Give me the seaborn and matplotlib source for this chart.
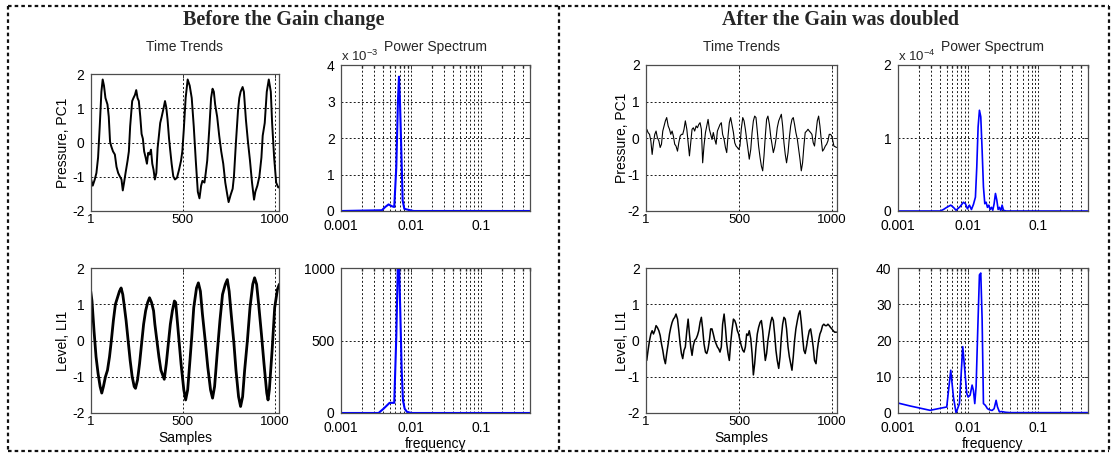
import matplotlib
matplotlib.use("Agg")
import matplotlib.pyplot as plt
import seaborn as sns
from matplotlib.lines import Line2D
from matplotlib.ticker import LogLocator, NullFormatter

# ---------------- data ----------------
time_xticks = [1, 500, 1000]
time_xticklabels = ["1", "500", "1000"]
time_yticks = [-2, -1, 0, 1, 2]
time_yticklabels = ["-2", "-1", "0", "1", "2"]
freq_ticks = [0.001, 0.01, 0.1]
freq_ticklabels = ["0.001", "0.01", "0.1"]

# Before the gain change: Pressure PC1 (sample, value)
pc1_before = [
    (1, -1.03), (12, -1.26), (23, -1.08), (32, -0.89), (41, -0.44), (50, 0.47), (59, 1.48), (66, 1.84),
    (73, 1.66), (81, 1.30), (92, 1.11), (99, 0.75), (106, 0.02), (113, -0.12), (122, -0.26), (132, -0.35),
    (141, -0.71), (150, -0.89), (159, -0.99), (168, -1.08), (175, -1.40), (182, -1.17), (190, -0.89),
    (201, -0.53), (208, -0.26), (215, 0.47), (226, 1.21), (233, 1.30), (241, 1.39), (248, 1.53), (255, 1.30),
    (262, 1.21), (270, 0.75), (277, 0.25), (284, 0.11), (291, -0.26), (299, -0.44), (306, -0.62),
    (313, -0.30), (320, -0.35), (328, -0.21), (335, -0.62), (342, -0.80), (349, -1.08), (357, -0.89),
    (364, -0.16), (371, 0.20), (378, 0.57), (386, 0.75), (397, 1.02), (404, 1.21), (411, 1.02), (418, 0.66),
    (426, 0.11), (433, -0.26), (440, -0.62), (449, -0.99), (458, -1.08), (469, -1.03), (480, -0.80),
    (491, -0.53), (498, -0.26), (506, 0.38), (516, 1.30), (527, 1.84), (538, 1.66), (549, 1.30), (560, 0.47),
    (571, -0.53), (582, -1.44), (591, -1.63), (600, -1.26), (607, -1.12), (618, -1.17), (625, -0.89),
    (633, -0.53), (644, 0.38), (654, 1.30), (662, 1.57), (669, 1.48), (676, 1.11), (687, 0.75), (698, 0.20),
    (709, -0.26), (720, -0.62), (731, -1.17), (742, -1.53), (749, -1.74), (760, -1.53), (771, -1.35),
    (778, -0.99), (789, 0.02), (800, 0.93), (807, 1.30), (814, 1.48), (825, 1.62), (832, 1.48), (843, 0.66),
    (854, 0.02), (865, -0.53), (876, -1.17), (887, -1.67), (894, -1.44), (905, -1.26), (916, -0.99),
    (927, -0.44), (934, 0.20), (945, 0.57), (956, 1.48), (967, 1.84), (978, 1.48), (985, 0.57), (996, -0.44),
    (1007, -1.17), (1018, -1.31), (1024, -1.31),
]

# Before the gain change: Level LI1
li1_before = [
    (1, 1.36), (8, 1.09), (19, 0.27), (30, -0.45), (41, -0.91), (52, -1.27), (61, -1.45), (70, -1.27),
    (81, -1.00), (92, -0.82), (103, -0.45), (113, 0.00), (124, 0.55), (135, 1.00), (146, 1.18), (157, 1.36),
    (166, 1.45), (175, 1.27), (182, 1.00), (193, 0.55), (204, 0.00), (215, -0.55), (226, -1.00),
    (237, -1.27), (244, -1.32), (255, -1.09), (266, -0.64), (277, -0.09), (288, 0.45), (299, 0.82),
    (310, 1.05), (320, 1.18), (331, 1.05), (342, 0.82), (349, 0.45), (360, 0.00), (371, -0.45), (382, -0.82),
    (400, -1.07), (411, -0.64), (422, -0.09), (433, 0.45), (444, 0.82), (455, 1.09), (462, 1.05), (469, 0.64),
    (480, 0.00), (491, -0.64), (506, -1.36), (516, -1.64), (527, -1.36), (538, -0.64), (549, 0.09),
    (560, 0.91), (575, 1.45), (585, 1.59), (596, 1.36), (607, 0.73), (622, 0.00), (636, -0.73), (651, -1.36),
    (662, -1.59), (673, -1.27), (687, -0.36), (702, 0.55), (716, 1.27), (731, 1.55), (742, 1.68), (752, 1.36),
    (763, 0.73), (778, -0.09), (789, -0.82), (803, -1.55), (814, -1.82), (825, -1.55), (836, -0.82),
    (851, 0.00), (865, 0.91), (880, 1.55), (890, 1.73), (901, 1.55), (912, 1.00), (927, 0.18), (941, -0.64),
    (956, -1.45), (963, -1.64), (970, -1.36), (985, -0.27), (999, 0.91), (1014, 1.41), (1024, 1.55),
]

# After the gain was doubled: Pressure PC1
pc1_after = [
    (5, 0.24), (12, 0.15), (20, 0.10), (27, -0.08), (34, -0.45), (41, -0.13), (48, 0.10), (55, 0.19),
    (62, 0.01), (70, -0.08), (77, -0.26), (84, -0.17), (91, 0.19), (98, 0.33), (105, 0.47), (112, 0.56),
    (120, 0.33), (127, 0.24), (134, 0.10), (141, 0.19), (148, 0.05), (155, -0.17), (162, -0.22),
    (170, -0.36), (177, -0.13), (184, 0.05), (191, 0.10), (198, 0.10), (205, 0.24), (212, 0.47), (220, 0.24),
    (227, -0.13), (234, -0.49), (241, -0.13), (248, 0.24), (255, 0.28), (262, 0.19), (270, 0.33),
    (277, 0.28), (284, 0.37), (291, 0.42), (298, 0.24), (305, -0.68), (312, -0.22), (320, 0.15), (327, 0.33),
    (334, 0.51), (341, 0.24), (348, 0.10), (355, -0.04), (362, 0.15), (370, -0.04), (377, -0.17),
    (384, 0.19), (391, 0.28), (398, 0.37), (405, 0.42), (412, 0.10), (420, -0.04), (427, -0.26),
    (434, -0.40), (441, 0.05), (448, 0.42), (455, 0.56), (462, 0.37), (470, 0.15), (477, -0.13),
    (484, -0.22), (491, -0.26), (498, -0.31), (505, -0.22), (512, 0.24), (520, 0.56), (527, 0.47),
    (534, 0.24), (541, -0.04), (548, -0.31), (555, -0.58), (563, -0.31), (570, 0.15), (577, 0.47),
    (584, 0.60), (591, 0.56), (598, 0.19), (605, -0.22), (613, -0.54), (620, -0.77), (627, -0.90),
    (634, -0.49), (641, 0.05), (648, 0.51), (655, 0.60), (663, 0.37), (670, 0.05), (677, -0.17),
    (684, -0.40), (691, -0.26), (698, -0.04), (705, 0.28), (713, 0.47), (720, 0.56), (727, 0.65),
    (734, 0.33), (741, -0.13), (748, -0.45), (755, -0.68), (763, -0.40), (770, 0.01), (777, 0.33),
    (784, 0.51), (791, 0.56), (798, 0.37), (805, 0.15), (813, -0.04), (820, -0.31), (827, -0.58),
    (834, -0.90), (841, -0.68), (848, -0.22), (855, 0.15), (863, 0.19), (870, 0.24), (877, 0.19),
    (884, 0.15), (891, 0.10), (898, -0.13), (905, -0.22), (913, 0.15), (920, 0.47), (927, 0.60),
    (934, 0.33), (941, -0.04), (948, -0.36), (955, -0.31), (963, -0.22), (970, -0.17), (977, -0.08),
    (984, 0.10), (991, 0.10), (998, 0.05), (1005, -0.13), (1009, -0.22), (1023, -0.26),
]

# After the gain was doubled: Level LI1
li1_after = [
    (5, -0.55), (12, -0.27), (20, 0.00), (27, 0.18), (34, 0.27), (41, 0.18), (48, 0.27), (55, 0.41),
    (62, 0.36), (70, 0.27), (77, 0.14), (84, -0.09), (91, -0.27), (98, -0.50), (105, -0.64), (112, -0.36),
    (120, -0.09), (127, 0.18), (134, 0.36), (141, 0.50), (148, 0.59), (155, 0.64), (162, 0.73), (170, 0.59),
    (177, 0.27), (184, -0.09), (191, -0.36), (198, -0.50), (205, -0.27), (212, -0.18), (220, 0.27),
    (227, 0.59), (234, 0.18), (241, -0.18), (248, -0.41), (255, -0.14), (262, 0.00), (270, 0.05),
    (277, 0.14), (284, 0.27), (291, 0.50), (298, 0.64), (305, 0.32), (312, -0.09), (320, -0.32),
    (327, -0.36), (334, -0.23), (341, 0.00), (348, 0.32), (355, 0.32), (362, 0.18), (370, 0.00),
    (377, -0.09), (384, -0.18), (391, -0.23), (398, -0.32), (405, -0.18), (412, 0.45), (420, 0.73),
    (427, 0.36), (434, -0.09), (441, -0.36), (448, -0.55), (455, -0.09), (462, 0.27), (470, 0.59),
    (477, 0.55), (484, 0.45), (491, 0.27), (498, 0.18), (505, 0.00), (512, -0.14), (520, -0.27),
    (527, -0.32), (534, -0.18), (541, 0.18), (548, 0.14), (555, 0.27), (563, 0.05), (570, -0.36),
    (577, -0.95), (584, -0.64), (591, -0.18), (598, 0.18), (605, 0.36), (613, 0.50), (620, 0.55),
    (627, 0.27), (634, -0.18), (641, -0.55), (648, -0.36), (655, 0.00), (663, 0.27), (670, 0.50),
    (677, 0.64), (684, 0.55), (691, 0.18), (698, -0.27), (705, -0.55), (713, -0.77), (720, -0.45),
    (727, 0.09), (734, 0.45), (741, 0.64), (748, 0.59), (755, 0.32), (763, -0.18), (770, -0.45),
    (777, -0.64), (784, -0.82), (791, -0.45), (798, 0.00), (805, 0.32), (813, 0.55), (820, 0.73),
    (827, 0.82), (834, 0.50), (841, 0.09), (848, -0.27), (855, -0.36), (863, -0.14), (870, 0.09),
    (877, 0.27), (884, 0.32), (891, 0.09), (898, -0.18), (905, -0.55), (913, -0.64), (920, -0.27),
    (927, 0.00), (934, 0.18), (941, 0.27), (948, 0.41), (955, 0.45), (963, 0.41), (970, 0.41),
    (977, 0.45), (984, 0.41), (991, 0.36), (998, 0.32), (1005, 0.27), (1013, 0.23), (1023, 0.23),
]

# Power spectra (frequency, power)
spec_pc1_before = [
    (0.001, 0.0), (0.00384, 0.00002), (0.00428, 0.00011), (0.00478, 0.00018), (0.00533, 0.00013),
    (0.00576, 0.00011), (0.00616, 0.0012), (0.00650, 0.0030), (0.00673, 0.00368), (0.00695, 0.0030),
    (0.00727, 0.00165), (0.00759, 0.00029), (0.00802, 0.00006), (0.00877, 0.00004), (0.00978, 0.00002),
    (0.0109, 0.0), (0.5, 0.0),
]
spec_li1_before = [
    (0.001, 0.0), (0.00344, 0.0), (0.00406, 30), (0.00494, 70), (0.00576, 70), (0.00616, 527),
    (0.00650, 1050), (0.00673, 1050), (0.00703, 690), (0.00735, 300), (0.00767, 87), (0.00811, 30),
    (0.00877, 7), (0.0103, 0.0), (0.5, 0.0),
]
spec_pc1_after = [
    (0.001, 0.0), (0.00400, 0.0), (0.00446, 0.02e-4), (0.00497, 0.05e-4), (0.00567, 0.08e-4),
    (0.00619, 0.05e-4), (0.00675, 0.01e-4), (0.00769, 0.06e-4), (0.00858, 0.12e-4), (0.00916, 0.10e-4),
    (0.00979, 0.03e-4), (0.01045, 0.08e-4), (0.01115, 0.02e-4), (0.01191, 0.09e-4), (0.01271, 0.19e-4),
    (0.01328, 0.60e-4), (0.01387, 1.15e-4), (0.01449, 1.38e-4), (0.01514, 1.29e-4), (0.01581, 0.84e-4),
    (0.01652, 0.33e-4), (0.01726, 0.10e-4), (0.01803, 0.12e-4), (0.01883, 0.05e-4), (0.01967, 0.08e-4),
    (0.02055, 0.02e-4), (0.02147, 0.05e-4), (0.02243, 0.01e-4), (0.02343, 0.10e-4), (0.02447, 0.24e-4),
    (0.02557, 0.15e-4), (0.02671, 0.02e-4), (0.02789, 0.05e-4), (0.02913, 0.0), (0.03043, 0.08e-4),
    (0.03179, 0.01e-4), (0.03467, 0.0), (0.5, 0.0),
]
spec_li1_after = [
    (0.001, 2.77), (0.00150, 1.94), (0.00288, 0.74), (0.00497, 1.66), (0.00567, 11.8), (0.00619, 4.4),
    (0.00675, 0.0), (0.00753, 2.6), (0.00840, 18.3), (0.00897, 11.8), (0.00957, 5.4), (0.01000, 4.4),
    (0.01067, 4.9), (0.01140, 7.7), (0.01191, 6.2), (0.01244, 2.6), (0.01299, 7.2), (0.01371, 22.9),
    (0.01449, 38.1), (0.01514, 38.6), (0.01581, 26.1), (0.01652, 2.6), (0.01763, 2.1), (0.01883, 1.2),
    (0.02009, 0.9), (0.02193, 0.7), (0.02343, 1.2), (0.02500, 3.5), (0.02612, 1.7), (0.02789, 0.3),
    (0.02979, 0.4), (0.03395, 0.2), (0.03954, 0.1), (0.5, 0.1),
]

spec_pc1_before_ticks = [0, 0.001, 0.002, 0.003, 0.004]
spec_pc1_before_labels = ["0", "1", "2", "3", "4"]
spec_li1_before_ticks = [0, 500, 1000]
spec_li1_before_labels = ["0", "500", "1000"]
spec_pc1_after_ticks = [0, 0.0001, 0.0002]
spec_pc1_after_labels = ["0", "1", "2"]
spec_li1_after_ticks = [0, 10, 20, 30, 40]
spec_li1_after_labels = ["0", "10", "20", "30", "40"]

# ---------------- figure ----------------
sns.set_theme(style="white")
plt.rcParams['font.family'] = ['Liberation Sans', 'DejaVu Sans']
plt.rcParams['mathtext.fontset'] = 'custom'
plt.rcParams['mathtext.rm'] = 'Liberation Sans'

W, H = 1115, 462
fig = plt.figure(figsize=(W / 100, H / 100), dpi=100)
fig.patch.set_facecolor('white')

GRID = dict(color='#1a1a1a', linestyle=(0, (2, 2.2)), linewidth=0.7)


def px_axes(x0, y0, x1, y1, xpad, xsize):
    ax = fig.add_axes([x0 / W, 1 - y1 / H, (x1 - x0) / W, (y1 - y0) / H])
    ax.set_facecolor('white')
    for s in ax.spines.values():
        s.set_color('#4d4d4d')
        s.set_linewidth(0.9)
    ax.tick_params(direction='in', length=3, width=0.7, labelsize=10,
                   top=True, right=True, labelcolor='black', color='#333333')
    ax.tick_params(axis='x', pad=xpad, labelsize=xsize)
    ax.tick_params(axis='y', pad=4.5)
    return ax


def draw_time(ax, data, lw, ylabel, xlabel, ylab_x):
    xs = [p[0] for p in data]
    ys = [p[1] for p in data]
    sns.lineplot(x=xs, y=ys, ax=ax, color='black', linewidth=lw, estimator=None, sort=False)
    ax.set_xlim(1, 1024)
    ax.set_ylim(-2, 2)
    ax.set_xticks(time_xticks)
    ax.set_xticklabels(time_xticklabels)
    ax.set_yticks(time_yticks)
    ax.set_yticklabels(time_yticklabels)
    ax.grid(True, which='major', **GRID)
    ax.set_ylabel(ylabel, fontsize=10, color='black')
    ax.yaxis.set_label_coords(ylab_x, 0.5)
    if xlabel:
        ax.set_xlabel(xlabel, fontsize=10, color='black')
        ax.xaxis.set_label_coords(0.5, -0.125)
    else:
        ax.set_xlabel('')


def draw_spec(ax, data, lw, yticks, ylabels, ymax, offset=None, xlabel=None):
    xs = [p[0] for p in data]
    ys = [p[1] for p in data]
    ax.set_xscale('log')
    sns.lineplot(x=xs, y=ys, ax=ax, color='#0000ff', linewidth=lw, estimator=None, sort=False)
    ax.set_xlim(0.001, 0.5)
    ax.set_ylim(0, ymax)
    ax.set_xticks(freq_ticks)
    ax.set_xticklabels(freq_ticklabels)
    ax.xaxis.set_minor_locator(LogLocator(base=10, subs=[2, 3, 4, 5, 6, 7, 8, 9], numticks=20))
    ax.xaxis.set_minor_formatter(NullFormatter())
    ax.tick_params(which='minor', direction='in', length=2, top=True)
    ax.set_yticks(yticks)
    ax.set_yticklabels(ylabels)
    ax.grid(True, which='both', axis='x', **GRID)
    ax.grid(True, which='major', axis='y', **GRID)
    ax.set_ylabel('')
    if offset:
        ax.text(0.0, 1.01, offset, transform=ax.transAxes, ha='left', va='bottom', fontsize=9.5)
    if xlabel:
        ax.set_xlabel(xlabel, fontsize=10, color='black')
        ax.xaxis.set_label_coords(0.5, -0.163)
    else:
        ax.set_xlabel('')


# Left panel
ax1 = px_axes(90.7, 74, 279.3, 211, 2, 9.5)
draw_time(ax1, pc1_before, 1.4, 'Pressure, PC1', None, -0.112)
ax2 = px_axes(341, 65, 530, 211, 5.5, 10)
draw_spec(ax2, spec_pc1_before, 1.5, spec_pc1_before_ticks, spec_pc1_before_labels, 0.004,
          offset=r'x 10$^{\mathregular{-3}}$')
ax3 = px_axes(90.7, 268, 279.3, 413, 2, 9.5)
draw_time(ax3, li1_before, 2.0, 'Level, LI1', 'Samples', -0.112)
ax4 = px_axes(341, 268, 530, 413, 5.5, 10)
draw_spec(ax4, spec_li1_before, 1.5, spec_li1_before_ticks, spec_li1_before_labels, 1000,
          xlabel='frequency')

# Right panel
ax5 = px_axes(646, 65, 836.7, 211, 2, 9.5)
draw_time(ax5, pc1_after, 0.8, 'Pressure, PC1', None, -0.09)
ax6 = px_axes(897.7, 65, 1087.7, 211, 5.5, 10)
draw_spec(ax6, spec_pc1_after, 1.2, spec_pc1_after_ticks, spec_pc1_after_labels, 0.0002,
          offset=r'x 10$^{\mathregular{-4}}$')
ax7 = px_axes(646, 268, 836.7, 413, 2, 9.5)
draw_time(ax7, li1_after, 1.1, 'Level, LI1', 'Samples', -0.09)
ax8 = px_axes(897.7, 268, 1087.7, 413, 5.5, 10)
draw_spec(ax8, spec_li1_after, 1.2, spec_li1_after_ticks, spec_li1_after_labels, 40,
          xlabel='frequency')

# Sub-titles
fig.text(185 / W, 1 - 47 / H, 'Time Trends', ha='center', va='center', fontsize=10)
fig.text(435.5 / W, 1 - 47 / H, 'Power Spectrum', ha='center', va='center', fontsize=10)
fig.text(741.3 / W, 1 - 47 / H, 'Time Trends', ha='center', va='center', fontsize=10)
fig.text(992.7 / W, 1 - 47 / H, 'Power Spectrum', ha='center', va='center', fontsize=10)

# Panel titles
fig.text(284 / W, 1 - 20 / H, 'Before the Gain change', ha='center', va='center',
         fontsize=14.5, fontweight='bold', family=['Liberation Serif', 'DejaVu Serif'])
fig.text(841 / W, 1 - 20 / H, 'After the Gain was doubled', ha='center', va='center',
         fontsize=14.5, fontweight='bold', family=['Liberation Serif', 'DejaVu Serif'])

# Dotted borders
BORDER = dict(color='#111111', linewidth=1.6, linestyle=(0, (1.6, 1.4)), transform=fig.transFigure)
xl, xm, xr = 7.5, 559, 1109
yt, yb = 6, 451
for (xa, ya, xb, yb_) in [(xl, yt, xr, yt), (xl, yb, xr, yb), (xl, yt, xl, yb), (xm, yt, xm, yb),
                          (xr, yt, xr, yb)]:
    fig.add_artist(Line2D([xa / W, xb / W], [1 - ya / H, 1 - yb_ / H], **BORDER))

fig.savefig('out.png', dpi=100, facecolor='white')
